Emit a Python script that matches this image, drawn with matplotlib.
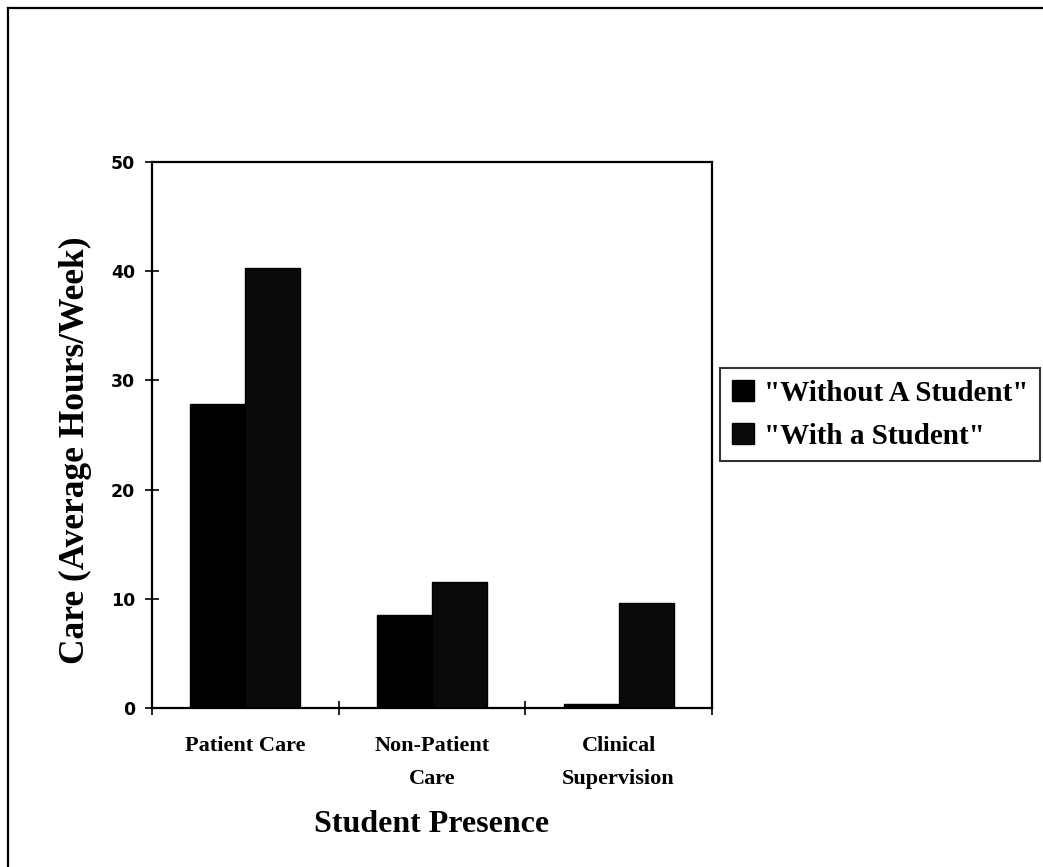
import numpy as np
import matplotlib
matplotlib.use("Agg")
import matplotlib.pyplot as plt
from matplotlib.lines import Line2D

# data
categories = ["Patient Care", "Non-Patient\nCare", "Clinical\nSupervision"]
without_student = [27.8, 8.5, 0.4]
with_student = [40.3, 11.5, 9.6]
series_names = ['"Without A Student"', '"With a Student"']
y_ticks = [0, 10, 20, 30, 40, 50]

fig = plt.figure(figsize=(10.43, 8.67), dpi=100)
ax = fig.add_axes([0.1457, 0.1834, 0.5369, 0.6297])

x = np.arange(len(categories))
w = 0.295
b1 = ax.bar(x - w / 2, without_student, w, color="black", edgecolor="black", label=series_names[0])
b2 = ax.bar(x + w / 2, with_student, w, color="#0a0a0a", edgecolor="black", label=series_names[1])

ax.set_xlim(-0.5, len(categories) - 0.5)
ax.set_ylim(0, 50)

# ticks sit on category boundaries, labels at centres
ax.set_xticks(np.arange(-0.5, len(categories)), [""] * (len(categories) + 1))
ax.set_xticks(x, categories, minor=True)
ax.tick_params(axis="x", which="major", direction="inout", length=10, width=1.2)
ax.tick_params(axis="x", which="minor", length=0, pad=20)
for lab in ax.get_xticklabels(minor=True):
    lab.set_fontfamily("Liberation Serif")
    lab.set_fontweight("bold")
    lab.set_fontsize(16)
    lab.set_verticalalignment("top")
    lab.set_linespacing(1.85)

ax.set_yticks(y_ticks)
ax.tick_params(axis="y", direction="inout", length=10, width=1.2, pad=7)
for lab in ax.get_yticklabels():
    lab.set_fontfamily("DejaVu Sans")
    lab.set_fontweight("bold")
    lab.set_fontsize(12.5)

for s in ax.spines.values():
    s.set_linewidth(1.6)

ax.set_ylabel("Care (Average Hours/Week)", fontfamily="Liberation Serif",
              fontweight="bold", fontsize=25.5, va="center", ha="center")
ax.yaxis.set_label_coords(-0.136, 0.4725)
ax.set_xlabel("Student Presence", fontfamily="Liberation Serif",
              fontweight="bold", fontsize=23, va="center")
ax.xaxis.set_label_coords(0.5, -0.214)

leg = fig.legend(handles=[b1, b2], loc="upper left", bbox_to_anchor=(0.6903, 1 - 368 / 867),
                 frameon=True, fancybox=False, edgecolor="black", handlelength=0.75,
                 handleheight=0.75, handletextpad=0.35, borderpad=0.4, borderaxespad=0,
                 labelspacing=0.55,
                 prop={"family": "Liberation Serif", "weight": "bold", "size": 21})
leg.get_frame().set_linewidth(1.5)

# page border, only top and left visible
fig.add_artist(Line2D([8 / 1043, 8 / 1043], [0, 1 - 8 / 867], color="black", lw=1.6))
fig.add_artist(Line2D([8 / 1043, 1], [1 - 8 / 867, 1 - 8 / 867], color="black", lw=1.6))

fig.savefig("out.png", dpi=100)
